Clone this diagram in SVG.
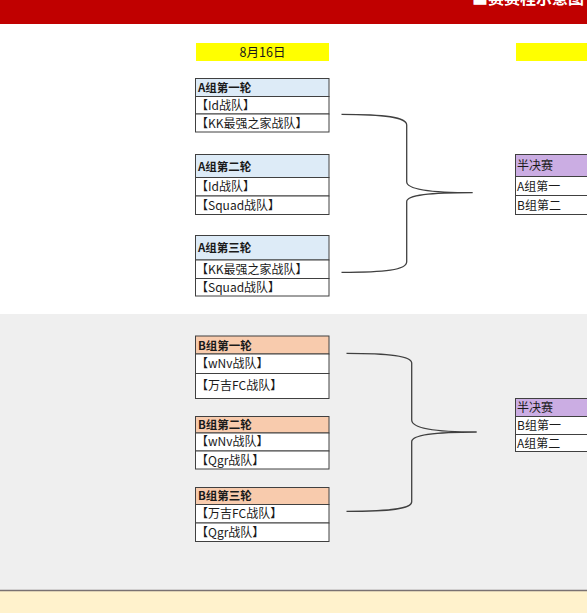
<svg xmlns="http://www.w3.org/2000/svg" width="587" height="613" viewBox="0 0 587 613">
<style>
text{font-family:"Microsoft YaHei","Noto Sans CJK SC","Liberation Sans",sans-serif;font-size:12px;fill:#1a1a1a}
.h{font-weight:bold;font-size:11.5px}
.cell{fill:#fff;stroke:#404040;stroke-width:1}
.ha{fill:#DDEBF7;stroke:#404040;stroke-width:1}
.hb{fill:#F8CBAD;stroke:#404040;stroke-width:1}
.hs{fill:#CBADE3;stroke:#404040;stroke-width:1}
.brace{fill:none;stroke:#404040;stroke-width:1.3}
</style>
<rect x="0" y="0" width="587" height="24" fill="#C00000"/>
<text x="472" y="4" style="font-size:16px;font-weight:bold;fill:#fff">■赛赛程示意图</text>
<rect x="0" y="24" width="587" height="290" fill="#fff"/>
<rect x="0" y="314" width="587" height="276" fill="#EFEFEF"/>
<rect x="0" y="590" width="587" height="23" fill="#FFF2CC"/>
<line x1="0" y1="590.5" x2="587" y2="590.5" stroke="#7a7272" stroke-width="1.5"/>

<g id="date1"><rect x="196" y="43" width="133" height="18" fill="#FFFF00"/><text x="262.5" y="56.5" text-anchor="middle" style="font-size:12.5px">8月16日</text></g>
<g id="date2"><rect x="516" y="43" width="71" height="18" fill="#FFFF00"/></g>

<g id="a1">
<rect class="ha" x="195.5" y="78.5" width="133.5" height="18"/>
<rect class="cell" x="195.5" y="96.5" width="133.5" height="17.5"/>
<rect class="cell" x="195.5" y="114" width="133.5" height="18"/>
<text class="h" x="198" y="92">A组第一轮</text>
<text x="196" y="109.5">【Id战队】</text>
<text x="196" y="127.5">【KK最强之家战队】</text>
</g>
<g id="a2">
<rect class="ha" x="195.5" y="154.5" width="133.5" height="23"/>
<rect class="cell" x="195.5" y="177.5" width="133.5" height="18.5"/>
<rect class="cell" x="195.5" y="196" width="133.5" height="18.5"/>
<text class="h" x="198" y="170.5">A组第二轮</text>
<text x="196" y="191">【Id战队】</text>
<text x="196" y="209.5">【Squad战队】</text>
</g>
<g id="a3">
<rect class="ha" x="195.5" y="235.5" width="133.5" height="24.5"/>
<rect class="cell" x="195.5" y="260" width="133.5" height="18.5"/>
<rect class="cell" x="195.5" y="278.5" width="133.5" height="17.5"/>
<text class="h" x="198" y="252">A组第三轮</text>
<text x="196" y="273.5">【KK最强之家战队】</text>
<text x="196" y="291.5">【Squad战队】</text>
</g>
<g id="b1">
<rect class="hb" x="195.5" y="336" width="133.5" height="18"/>
<rect class="cell" x="195.5" y="354" width="133.5" height="19.5"/>
<rect class="cell" x="195.5" y="373.5" width="133.5" height="25"/>
<text class="h" x="198" y="349.5">B组第一轮</text>
<text x="196" y="368">【wNv战队】</text>
<text x="196" y="390">【万吉FC战队】</text>
</g>
<g id="b2">
<rect class="hb" x="195.5" y="416.5" width="133.5" height="16.5"/>
<rect class="cell" x="195.5" y="433" width="133.5" height="18"/>
<rect class="cell" x="195.5" y="451" width="133.5" height="18"/>
<text class="h" x="198" y="429">B组第二轮</text>
<text x="196" y="446">【wNv战队】</text>
<text x="196" y="464.5">【Qgr战队】</text>
</g>
<g id="b3">
<rect class="hb" x="195.5" y="487.5" width="133.5" height="17"/>
<rect class="cell" x="195.5" y="504.5" width="133.5" height="18.5"/>
<rect class="cell" x="195.5" y="523" width="133.5" height="18.5"/>
<text class="h" x="198" y="500">B组第三轮</text>
<text x="196" y="518">【万吉FC战队】</text>
<text x="196" y="536.5">【Qgr战队】</text>
</g>

<g id="semiA">
<rect class="hs" x="515.5" y="154.5" width="80" height="22"/>
<rect class="cell" x="515.5" y="176.5" width="80" height="19"/>
<rect class="cell" x="515.5" y="195.5" width="80" height="19"/>
<text x="517" y="170">半决赛</text>
<text x="517" y="190.5">A组第一</text>
<text x="517" y="209.5">B组第二</text>
</g>
<g id="semiB">
<rect class="hs" x="515.5" y="398.5" width="80" height="18"/>
<rect class="cell" x="515.5" y="416.5" width="80" height="18"/>
<rect class="cell" x="515.5" y="434.5" width="80" height="17"/>
<text x="517" y="412">半决赛</text>
<text x="517" y="430">B组第一</text>
<text x="517" y="447.5">A组第二</text>
</g>

<g id="connectors">
<path class="brace" d="M341.5,114.3 C385,114.3 406.7,117 406.7,125 L406.7,181.7 C406.7,189 430,192.7 472.7,192.7 C430,192.7 406.7,195 406.7,201.7 L406.7,261.7 C406.7,270 385,272.3 341.5,272.3"/>
<path class="brace" d="M346.5,353.3 C390,353.3 411.7,356 411.7,363 L411.7,420 C411.7,428 435,432 476.7,432 C435,432 411.7,435 411.7,441.7 L411.7,501.7 C411.7,509 390,511.3 346.5,511.3"/>
</g>
</svg>
